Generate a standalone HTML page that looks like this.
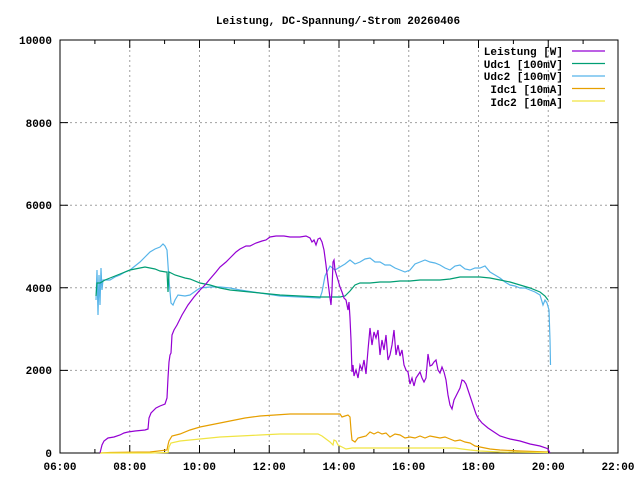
<!DOCTYPE html>
<html><head><meta charset="utf-8"><style>
html,body{margin:0;padding:0;background:#fff;width:640px;height:480px;overflow:hidden}
text{font-family:"Liberation Mono",monospace;font-size:11px;font-weight:bold;fill:#000}
</style></head><body>
<svg width="640" height="480" viewBox="0 0 640 480" xmlns="http://www.w3.org/2000/svg">
<rect width="640" height="480" fill="#fff"/>
<g stroke="#a0a0a0" stroke-dasharray="2,3" stroke-width="1">
<line x1="60" y1="370.4" x2="618" y2="370.4"/><line x1="60" y1="287.8" x2="618" y2="287.8"/>
<line x1="60" y1="205.2" x2="618" y2="205.2"/><line x1="60" y1="122.6" x2="618" y2="122.6"/>
<line x1="129.75" y1="40" x2="129.75" y2="453"/><line x1="199.5" y1="40" x2="199.5" y2="453"/>
<line x1="269.25" y1="40" x2="269.25" y2="453"/><line x1="339" y1="40" x2="339" y2="453"/>
<line x1="408.75" y1="40" x2="408.75" y2="453"/><line x1="478.5" y1="40" x2="478.5" y2="453"/>
<line x1="548.25" y1="40" x2="548.25" y2="453"/>
</g>
<g stroke="#000" stroke-width="1" fill="none">
<rect x="60" y="40" width="558" height="413"/>
<path d="M60 370.4h8M60 287.8h8M60 205.2h8M60 122.6h8M618 370.4h-8M618 287.8h-8M618 205.2h-8M618 122.6h-8
M94.9 453v-4M129.75 453v-8M164.6 453v-4M199.5 453v-8M234.4 453v-4M269.25 453v-8M304.1 453v-4M339 453v-8M373.9 453v-4M408.75 453v-8M443.6 453v-4M478.5 453v-8M513.4 453v-4M548.25 453v-8M583.1 453v-4
M94.9 40v4M129.75 40v8M164.6 40v4M199.5 40v8M234.4 40v4M269.25 40v8M304.1 40v4M339 40v8M373.9 40v4M408.75 40v8M443.6 40v4M478.5 40v8M513.4 40v4M548.25 40v8M583.1 40v4"/>
</g>
<text x="338" y="24" text-anchor="middle">Leistung, DC-Spannung/-Strom 20260406</text>
<g text-anchor="end">
<text x="52" y="457">0</text><text x="52" y="374">2000</text><text x="52" y="292">4000</text>
<text x="52" y="209">6000</text><text x="52" y="127">8000</text><text x="52" y="44">10000</text>
</g>
<g text-anchor="middle">
<text x="60" y="470">06:00</text><text x="129.75" y="470">08:00</text><text x="199.5" y="470">10:00</text>
<text x="269.25" y="470">12:00</text><text x="339" y="470">14:00</text><text x="408.75" y="470">16:00</text>
<text x="478.5" y="470">18:00</text><text x="548.25" y="470">20:00</text><text x="618" y="470">22:00</text>
</g>
<g text-anchor="end">
<text x="563" y="55">Leistung [W]</text><text x="563" y="68">Udc1 [100mV]</text>
<text x="563" y="80">Udc2 [100mV]</text><text x="563" y="93">Idc1 [10mA]</text><text x="563" y="106">Idc2 [10mA]</text>
</g>
<g stroke-width="1.2" fill="none">
<line x1="572" y1="51" x2="605" y2="51" stroke="#9400d3"/>
<line x1="572" y1="63.5" x2="605" y2="63.5" stroke="#009e73"/>
<line x1="572" y1="76" x2="605" y2="76" stroke="#56b4e9"/>
<line x1="572" y1="88.5" x2="605" y2="88.5" stroke="#e69f00"/>
<line x1="572" y1="101" x2="605" y2="101" stroke="#f0e442"/>
<polyline stroke="#56b4e9" points="96,300 97,270 98,315 99,275 100,305 101,268 102,290 103,280 110,280 115,277 120,275 125,272 130,270 135,266 140,262 145,257 150,252 155,249 160,247 163,244 165,246 167,250 169,280 171,303 173,305 175,300 178,295 185,296 190,295 197,290 200,288 210,287 220,287 230,288 240,290 260,293 280,296 300,297 320,298 322,292 325,276 330,266 335,270 340,267 345,264 350,260 355,264 360,262 365,259 370,258 375,262 380,262 385,265 390,265 395,268 400,270 405,272 410,270 415,264 420,262 425,260 430,262 435,263 440,265 445,268 450,270 455,266 460,265 465,269 470,270 475,268 480,268 485,266 490,272 495,275 500,278 505,282 510,285 515,286 520,288 525,288 530,290 535,292 540,295 543,305 545,300 547,303 549,310 550,340 550.5,365"/>
<polyline stroke="#009e73" points="96,296 97,283 100,283 105,280 110,278 120,274 130,270 140,268 145,267 150,268 155,269 160,271 166,272 167,272 168,292 169,272 175,275 185,278 190,279 200,283 210,285 220,288 230,290 240,291 260,293 280,295 300,296 320,297 340,297 345,296 350,291 355,285 360,283 370,283 380,282 390,282 400,281 410,281 420,280 430,280 440,280 450,279 460,277 470,277 480,277 490,278 500,280 510,282 520,285 530,288 540,292 545,296 548,300"/>
<polyline stroke="#e69f00" points="100,453 110,452.5 150,452 167,450 168,445 169,441 172,436 180,434 190,430 200,427 215,424 230,421 245,418 260,416 275,415 290,414 310,414 330,414 340,414 342,417 345,416 348,415 350,417 351,430 352,440 355,442 358,438 362,437 366,436 370,432 374,434 378,432 382,434 386,433 390,437 395,434 400,435 405,438 410,437 415,438 420,436 425,438 430,436 435,437 440,438 445,437 450,439 455,441 460,440 465,442 470,443 475,446 480,447 490,449 500,450 520,451 548,452"/>
<polyline stroke="#f0e442" points="100,453 130,453 150,453 168,452.5 169,447 171,443 180,441 190,440 200,439 220,437 240,436 260,435 280,434 300,434 318,434 322,436 326,439 330,442 333,445 334,440 336,441 338,445 342,447 346,449 352,448 360,448 380,448 400,448 420,448 440,448 455,448 462,449 470,450 480,451 500,452 548,452.5"/>
<polyline stroke="#9400d3" points="100,453 102,445 104,441 108,438 114,437 120,435 124,433 128,432 135,431 145,430 148,429 149,418 151,413 156,408 160,406 165,404 167,398 168,378 169,362 170,355 171,353 172,335 174,330 177,325 182,315 188,305 194,297 200,290 205,285 210,279 216,272 220,267 226,262 230,258 236,252 240,249 246,246 250,246 256,243 262,241 266,240 270,237 276,236 284,236 290,237 300,237 306,236 310,238 312,242 314,240 316,245 318,239 320,238 322,242 324,250 326,265 328,282 330,298 331,305 332,290 333,262 334,260 335,270 338,280 340,287 342,292 344,298 346,300 348,310 349,302 350,318 351,340 352,372 353,365 354,376 356,370 358,378 360,365 362,370 364,360 366,374 368,350 370,328 372,345 374,332 376,338 378,330 380,355 382,340 384,350 386,335 388,360 390,355 392,345 394,330 396,355 398,345 400,356 402,350 404,365 406,370 408,372 410,384 412,378 414,386 416,378 418,375 420,372 422,378 424,382 426,378 428,354 430,366 432,365 434,362 436,360 438,370 440,373 442,367 444,372 446,380 448,395 450,405 452,409 454,400 456,396 458,392 460,388 462,380 464,381 466,384 468,390 470,396 472,402 474,408 476,414 478,418 482,423 488,428 494,432 500,436 510,439 520,441 530,444 540,446 546,448 548,449 550,453"/>
</g>
</svg>
</body></html>
